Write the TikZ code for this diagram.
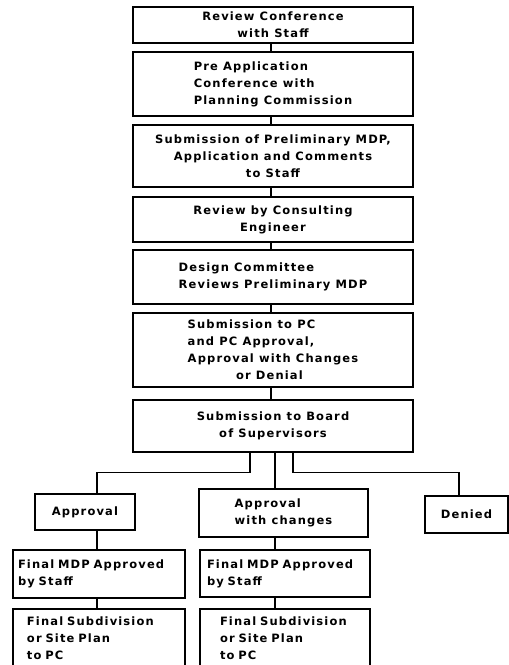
\documentclass[tikz,border=0pt]{standalone}
\usepackage{fontspec}
\newfontfamily\boxfont{DejaVu Sans}[LetterSpace=10]
\begin{document}
\begin{tikzpicture}[x=1pt,y=-1pt,
  box/.style={draw, line width=1.3pt, inner sep=0pt, align=center,
    font=\fontsize{11.5}{17}\selectfont\boxfont\bfseries},
  colbox/.style={box, minimum width=280pt},
  conn/.style={line width=1.2pt}]
\useasboundingbox (0,0) rectangle (509,665);
\fill[white] (0,0) rectangle (509,665);
% main column
\node[colbox, minimum height=36pt] (b1) at (273,25) {Review Conference\\with Staff};
\node[colbox, minimum height=64pt, align=left] (b2) at (273,84) {Pre Application\\Conference with\\Planning Commission};
\node[colbox, minimum height=62pt] (b3) at (273,156) {Submission of Preliminary MDP,\\Application and Comments\\to Staff};
\node[colbox, minimum height=45pt] (b4) at (273,219.5) {Review by Consulting\\Engineer};
\node[colbox, minimum height=54pt, align=left] (b5) at (273,277) {Design Committee\\Reviews Preliminary MDP};
\node[colbox, minimum height=74pt, align=left] (b6) at (273,350) {Submission to PC\\and PC Approval,\\Approval with Changes\\\hspace*{4.2em}or Denial};
\node[colbox, minimum height=52pt] (b7) at (273,426) {Submission to Board\\of Supervisors};
% branches
\node[box, minimum width=100pt, minimum height=36pt] (ap) at (85,512) {Approval};
\node[box, minimum width=169pt, minimum height=48pt, align=left] (awc) at (283.5,513) {Approval\\with changes};
\node[box, minimum width=83pt, minimum height=37pt] (den) at (466.5,514.5) {Denied};
\node[box, text width=162pt, inner xsep=5pt, minimum height=48pt, align=left] (fm1) at (99,574) {Final MDP Approved\\by Staff};
\node[box, text width=156pt, inner xsep=7pt, minimum height=47pt, align=left] (fm2) at (285,573.5) {Final MDP Approved\\by Staff};
\node[box, text width=144pt, inner xsep=14pt, minimum height=59pt, align=left] (fs1) at (99,638.5) {Final Subdivision\\or Site Plan\\to PC};
\node[box, text width=130pt, inner xsep=20pt, minimum height=59pt, align=left] (fs2) at (285,638.5) {Final Subdivision\\or Site Plan\\to PC};
% column connectors
\foreach \a/\b in {b1/b2,b2/b3,b3/b4,b4/b5,b5/b6,b6/b7}
  \draw[conn] ([xshift=-2pt]\a.south) -- ([xshift=-2pt]\b.north);
% branch connectors
\coordinate (lx) at ([xshift=12pt]ap.north);
\coordinate (mx) at ([xshift=-8.5pt]awc.north);
\coordinate (rx) at ([xshift=-7.5pt]den.north);
\draw[conn] ([xshift=-23pt]b7.south) -- ++(0,20) -| (lx);
\draw[conn] (mx |- b7.south) -- (mx);
\draw[conn] ([xshift=20pt]b7.south) -- ++(0,20) -| (rx);
\draw[conn] (lx |- ap.south) -- (lx |- fm1.north);
\draw[conn] (lx |- fm1.south) -- (lx |- fs1.north);
\draw[conn] (mx |- awc.south) -- (mx |- fm2.north);
\draw[conn] (mx |- fm2.south) -- (mx |- fs2.north);
\end{tikzpicture}
\end{document}
